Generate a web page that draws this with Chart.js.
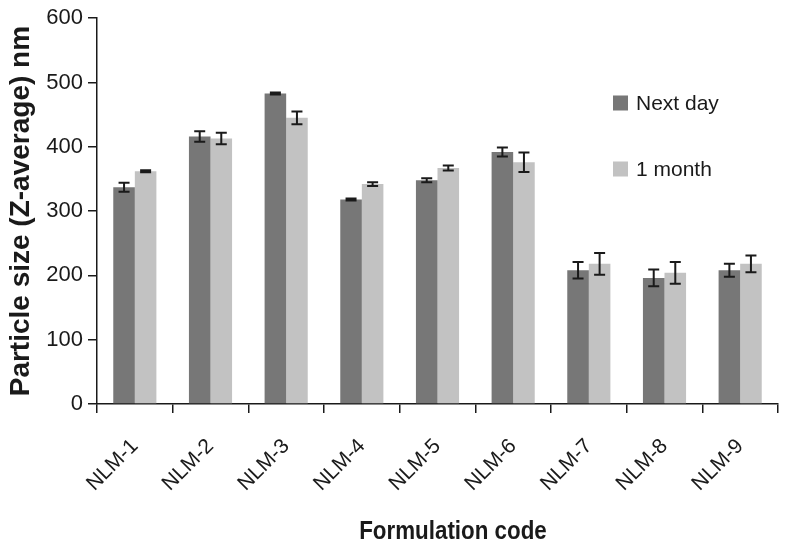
<!DOCTYPE html>
<html>
<head>
<meta charset="utf-8">
<script src="https://cdn.jsdelivr.net/npm/chart.js@4.4.1/dist/chart.umd.min.js"></script>
<style>
  html, body { margin: 0; padding: 0; background: #fff; }
  #wrap { width: 790px; height: 550px; }
</style>
</head>
<body>
<div id="wrap"><canvas id="barChart" width="790" height="550"></canvas></div>
<script>
// Data
const codes = ['NLM-1', 'NLM-2', 'NLM-3', 'NLM-4', 'NLM-5', 'NLM-6', 'NLM-7', 'NLM-8', 'NLM-9'];
const nextDay = [337, 416, 483, 318, 348, 392, 208, 196, 208];
const nextDayErr = [7, 8, 1.5, 1.5, 3, 7, 13, 13, 10];
const oneMonth = [362, 413, 445, 342, 367, 376, 218, 204, 218];
const oneMonthErr = [1.5, 9, 10, 3, 4, 15, 17, 17, 13];
const yTicks = [0, 100, 200, 300, 400, 500, 600];

const darkGrey = '#777777';
const lightGrey = '#c2c2c2';
const ink = '#1a1a1a';
const font = "'Liberation Sans', Arial, sans-serif";

// error bars on top of every bar
const errorBars = {
    id: 'errorBars',
    afterDatasetsDraw(chart) {
        const ctx = chart.ctx;
        const y = chart.scales.y;
        chart.data.datasets.forEach((ds, i) => {
            const meta = chart.getDatasetMeta(i);
            meta.data.forEach((bar, j) => {
                const v = ds.data[j], e = ds.errors[j];
                const top = y.getPixelForValue(v + e);
                const bot = y.getPixelForValue(v - e);
                ctx.save();
                ctx.strokeStyle = ink;
                ctx.lineWidth = 2;
                ctx.beginPath();
                ctx.moveTo(bar.x, top); ctx.lineTo(bar.x, bot);
                ctx.moveTo(bar.x - 5.5, top); ctx.lineTo(bar.x + 5.5, top);
                ctx.moveTo(bar.x - 5.5, bot); ctx.lineTo(bar.x + 5.5, bot);
                ctx.stroke();
                ctx.restore();
            });
        });
    }
};

// legend inside the plot, stacked vertically + x axis title (a bit condensed, like the original)
const sideLegend = {
    id: 'sideLegend',
    afterDraw(chart) {
        const ctx = chart.ctx;
        ctx.save();
        ctx.font = '21px ' + font;
        ctx.textBaseline = 'middle';
        chart.data.datasets.forEach((ds, i) => {
            const yy = 103 + i * 66;
            ctx.fillStyle = ds.backgroundColor;
            ctx.fillRect(613, yy - 7.5, 15, 15);
            ctx.fillStyle = ink;
            ctx.fillText(ds.label, 636, yy + 1);
        });
        ctx.restore();

        ctx.save();
        ctx.translate(453, 532);
        ctx.scale(0.86, 1);
        ctx.font = 'bold 26px ' + font;
        ctx.fillStyle = ink;
        ctx.textAlign = 'center';
        ctx.textBaseline = 'middle';
        ctx.fillText('Formulation code', 0, 0);
        ctx.restore();
    }
};

const ctx = document.getElementById('barChart').getContext('2d');
new Chart(ctx, {
    type: 'bar',
    data: {
        labels: codes,
        datasets: [
            { label: 'Next day', data: nextDay, errors: nextDayErr, backgroundColor: darkGrey,
              barPercentage: 1, categoryPercentage: 0.57 },
            { label: '1 month', data: oneMonth, errors: oneMonthErr, backgroundColor: lightGrey,
              barPercentage: 1, categoryPercentage: 0.57 }
        ]
    },
    options: {
        responsive: false,
        animation: false,
        layout: { padding: { top: 15, right: 12, left: 0, bottom: 0 } },
        plugins: {
            legend: { display: false },
            tooltip: { enabled: false }
        },
        scales: {
            x: {
                grid: { offset: true, drawOnChartArea: false, drawTicks: true, tickLength: 9, color: ink, lineWidth: 1.5 },
                border: { color: ink, width: 1.5 },
                ticks: { color: ink, font: { family: font, size: 21 }, minRotation: 45, maxRotation: 45, padding: 21 },
                afterFit(scale) { scale.height = 146; }
            },
            y: {
                min: 0, max: 600,
                afterBuildTicks(scale) { scale.ticks = yTicks.map(v => ({ value: v })); },
                grid: { drawOnChartArea: false, drawTicks: true, tickLength: 9, color: ink, lineWidth: 1.5 },
                border: { color: ink, width: 1.5 },
                ticks: { color: ink, font: { family: font, size: 22 }, padding: 5 },
                title: { display: true, text: 'Particle size (Z-average) nm', color: ink,
                         font: { family: font, size: 28, weight: 'bold' }, padding: { top: 4, bottom: 0 } },
                afterFit(scale) { scale.width = 97; }
            }
        }
    },
    plugins: [errorBars, sideLegend]
});
</script>
</body>
</html>
